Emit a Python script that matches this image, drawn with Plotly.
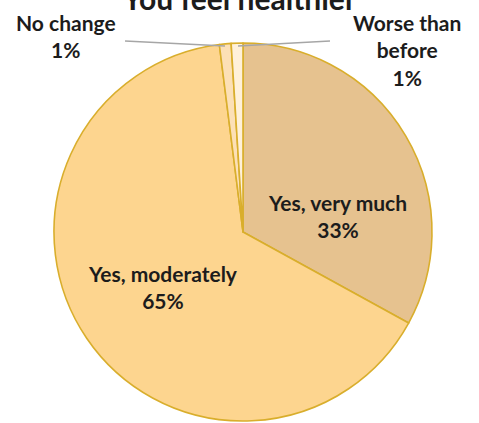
import plotly.graph_objects as go

# Survey answers to "You feel healthier"
categories = ["Yes, very much", "Yes, moderately", "No change", "Worse than before"]
shares = [33, 65, 1, 1]
slice_colors = ["#E6C28F", "#FDD58F", "#FCE0B6", "#FFF1DA"]

W, H = 479, 423
cx, cy, r = 243, 232, 189  # pie centre and radius in pixels

fig = go.Figure(go.Pie(
    labels=categories,
    values=shares,
    sort=False,
    direction="clockwise",
    rotation=0,
    textinfo="none",
    hoverinfo="label+percent",
    marker=dict(colors=slice_colors, line=dict(color="#D9AE2C", width=1.6)),
    domain=dict(x=[(cx - r) / W, (cx + r) / W], y=[(H - cy - r) / H, (H - cy + r) / H]),
    showlegend=False,
))

font_main = dict(family="Lato, 'Open Sans', sans-serif", size=21, color="#1c1c1c")

def px(x, y):
    return x / W, 1 - y / H

labels_at = {
    "Yes, very much": (337, 216),
    "Yes, moderately": (163, 287),
    "No change": (66, 36),
    "Worse than before": (407, 50),
}
annotations = []
for name, val in zip(categories, shares):
    x, y = px(*labels_at[name])
    text = name if name != "Worse than before" else "Worse than<br>before"
    annotations.append(dict(
        x=x, y=y, xref="paper", yref="paper", showarrow=False,
        text=f"<b>{text}<br>{val}%</b>", font=font_main,
        xanchor="center", yanchor="middle", align="center",
    ))

# Leader lines for the two thin slices
shapes = []
for (x0, y0, x1, y1) in [(125, 41, 225, 46), (238, 46, 330, 41)]:
    a0, b0 = px(x0, y0)
    a1, b1 = px(x1, y1)
    shapes.append(dict(type="line", xref="paper", yref="paper",
                       x0=a0, y0=b0, x1=a1, y1=b1,
                       line=dict(color="#A6A6A6", width=1.5)))

fig.update_layout(
    width=W, height=H,
    margin=dict(l=0, r=0, t=0, b=0),
    paper_bgcolor="white",
    title=dict(text="<b>You feel healthier</b>", x=0.5, xanchor="center",
               y=1 - 10 / H, yanchor="bottom", yref="container",
               font=dict(family="Lato, 'Open Sans', sans-serif", size=30, color="#1c1c1c")),
    annotations=annotations,
    shapes=shapes,
)

fig.write_html("out.html")
